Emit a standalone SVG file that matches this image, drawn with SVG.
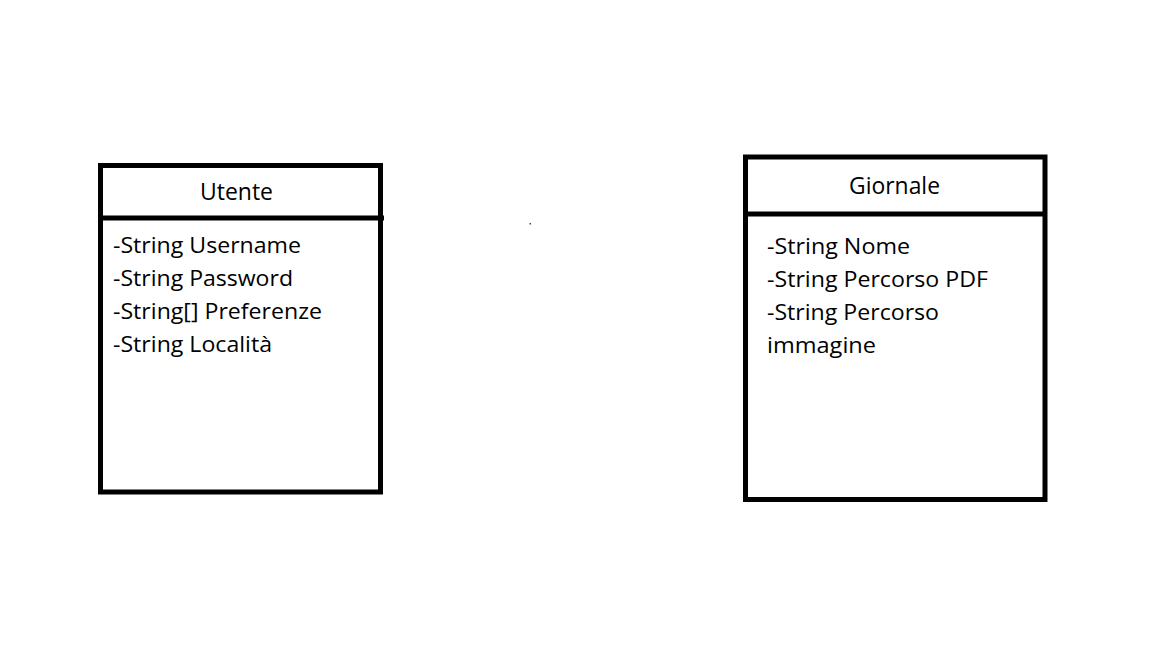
<svg xmlns="http://www.w3.org/2000/svg" width="1152" height="648" viewBox="0 0 1152 648">
<style>
.box{fill:#fff;stroke:#000;stroke-width:5}
.div{stroke:#000;stroke-width:5}
.t{font-family:"Open Sans","Noto Sans",sans-serif;fill:#000}
.title{font-size:24px;text-anchor:middle}
.attr{font-size:22.5px}
</style>
<rect width="1152" height="648" fill="#fff"/>
<g id="utente">
<rect class="box" x="100.5" y="165.5" width="280" height="326.5"/>
<line class="div" x1="100.5" y1="218" x2="384" y2="218"/>
<text class="t title" x="236.5" y="200" textLength="73" lengthAdjust="spacingAndGlyphs">Utente</text>
<text class="t attr" x="113" y="253" textLength="188" lengthAdjust="spacingAndGlyphs">-String Username</text>
<text class="t attr" x="113" y="286" textLength="180" lengthAdjust="spacingAndGlyphs">-String Password</text>
<text class="t attr" x="113" y="319" textLength="209" lengthAdjust="spacingAndGlyphs">-String[] Preferenze</text>
<text class="t attr" x="113" y="352" textLength="159" lengthAdjust="spacingAndGlyphs">-String Località</text>
</g>
<g id="giornale">
<rect class="box" x="745.5" y="157" width="299.5" height="342.5"/>
<line class="div" x1="745.5" y1="214" x2="1045" y2="214"/>
<text class="t title" x="894.5" y="194" textLength="91" lengthAdjust="spacingAndGlyphs">Giornale</text>
<text class="t attr" x="767" y="254" textLength="143" lengthAdjust="spacingAndGlyphs">-String Nome</text>
<text class="t attr" x="767" y="287" textLength="221" lengthAdjust="spacingAndGlyphs">-String Percorso PDF</text>
<text class="t attr" x="767" y="320" textLength="172" lengthAdjust="spacingAndGlyphs">-String Percorso</text>
<text class="t attr" x="767" y="353" textLength="109" lengthAdjust="spacingAndGlyphs">immagine</text>
</g>
<g id="connectors"></g>
<rect x="529.5" y="223" width="1.5" height="1.5" fill="#444"/>
</svg>
